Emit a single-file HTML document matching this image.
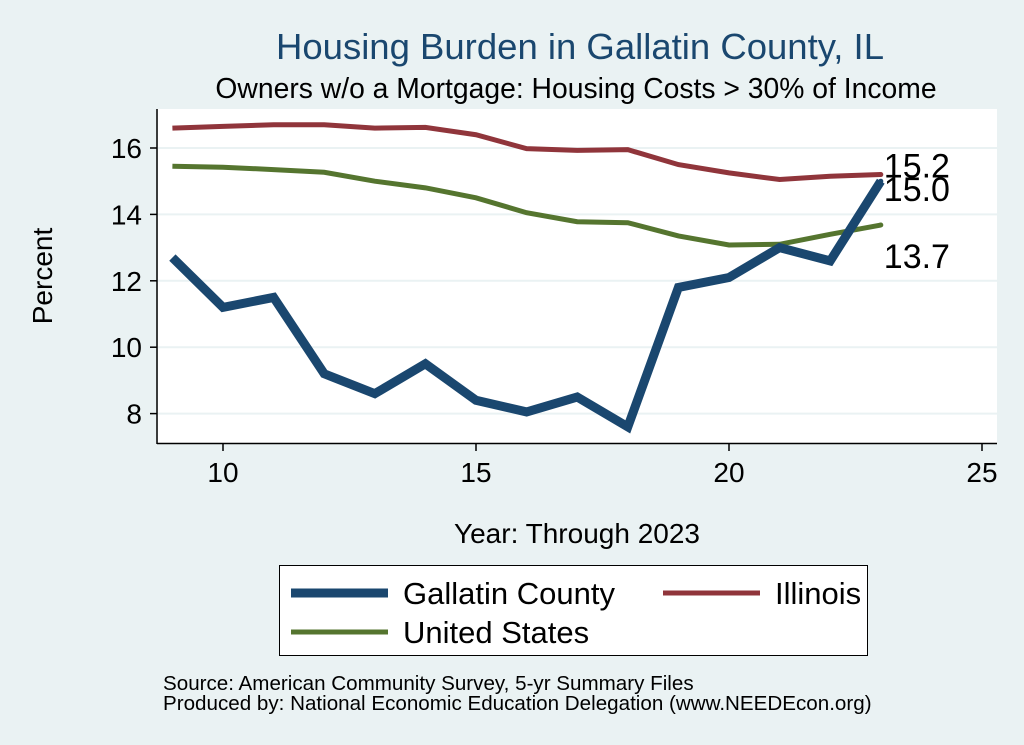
<!DOCTYPE html>
<html><head><meta charset="utf-8"><style>
body{margin:0;background:#eaf2f3;}
svg{display:block;font-family:"Liberation Sans",sans-serif;}
</style></head><body>
<svg id="chart" width="1024" height="745">
<rect width="1024" height="745" fill="#eaf2f3"/>
<text x="580" y="59" font-size="36.5" fill="#1a476f" text-anchor="middle">Housing Burden in Gallatin County, IL</text>
<text x="576" y="98" font-size="28.3" fill="#000" text-anchor="middle">Owners w/o a Mortgage: Housing Costs &gt; 30% of Income</text>
<rect x="158" y="109" width="839" height="334" fill="#fff"/>
<g id="grid"></g>
<g id="series"></g>
<line x1="157" y1="109" x2="157" y2="444" stroke="#000" stroke-width="1.5"/>
<line x1="157" y1="443.5" x2="997" y2="443.5" stroke="#000" stroke-width="1.5"/>
<g id="ticks"></g>
<text x="52" y="276" font-size="28" text-anchor="middle" transform="rotate(-90 52 276)">Percent</text>
<text x="577" y="543" font-size="28" text-anchor="middle">Year: Through 2023</text>
<g>
<rect x="279.5" y="565.5" width="588" height="90" fill="#fff" stroke="#000"/>
<line x1="291" y1="593" x2="388" y2="593" stroke="#1a476f" stroke-width="9"/>
<text x="403" y="604" font-size="31">Gallatin County</text>
<line x1="663" y1="593" x2="760" y2="593" stroke="#90353b" stroke-width="5"/>
<text x="775" y="604" font-size="31">Illinois</text>
<line x1="291" y1="632" x2="388" y2="632" stroke="#55752f" stroke-width="5"/>
<text x="403" y="643" font-size="31">United States</text>
</g>
<text x="163" y="690" font-size="20.6">Source: American Community Survey, 5-yr Summary Files</text>
<text x="163" y="710" font-size="20.6">Produced by: National Economic Education Delegation (www.NEEDEcon.org)</text>
</svg>
<script>
const years=[9,10,11,12,13,14,15,16,17,18,19,20,21,22,23];
const gallatin=[12.7,11.2,11.5,9.2,8.6,9.5,8.4,8.05,8.5,7.6,11.8,12.1,13.0,12.6,15.0];
const illinois=[16.6,16.65,16.7,16.7,16.6,16.62,16.4,15.98,15.93,15.95,15.5,15.25,15.05,15.15,15.2];
const us=[15.45,15.42,15.35,15.27,15.0,14.8,14.5,14.05,13.78,13.75,13.35,13.08,13.1,13.4,13.68];
const xTicks=[10,15,20,25];
const yTicks=[8,10,12,14,16];
const NS='http://www.w3.org/2000/svg';
function xs(v){return 223+(v-10)*50.6;}
function ys(v){return 148+(16-v)*33.2;}
function mk(tag,attrs,parent){const e=document.createElementNS(NS,tag);for(const k in attrs)e.setAttribute(k,attrs[k]);parent.appendChild(e);return e;}
const grid=document.getElementById('grid'),ticks=document.getElementById('ticks'),ser=document.getElementById('series'),svg=document.getElementById('chart');
yTicks.forEach(t=>{
 const g=mk('line',{x1:158,x2:997,y1:ys(t),y2:ys(t),stroke:'#eaf2f3','stroke-width':2},grid);
 
 
 const k=mk('line',{x1:150,x2:157,y1:ys(t),y2:ys(t),stroke:'#000','stroke-width':1.5},ticks);
 
 
 const l=mk('text',{x:142,y:ys(t)+10,'font-size':28,'text-anchor':'end'},ticks);l.textContent=t;
 
 
});
xTicks.forEach(t=>{
 const k=mk('line',{x1:xs(t),x2:xs(t),y1:443,y2:451,stroke:'#000','stroke-width':1.5},ticks);
 
 
 const l=mk('text',{x:xs(t),y:482,'font-size':28,'text-anchor':'middle'},ticks);l.textContent=t;
 
 
});
function line(vals,color,w,name){
 const p=mk('polyline',{points:vals.map((v,i)=>xs(years[i])+','+ys(v)).join(' '),fill:'none',stroke:color,'stroke-width':w,'stroke-linejoin':'miter'},ser);
 
 
}
line(illinois,'#90353b',5,'line-illinois');
line(us,'#55752f',5,'line-us');
line(gallatin,'#1a476f',9,'line-gallatin');
const n=years.length-1;
[[illinois[n],'#90353b',-7,'label-illinois-last'],[gallatin[n],'#1a476f',10,'label-gallatin-last'],[us[n],'#55752f',33,'label-us-last']].forEach(a=>{
 const d=mk('circle',{cx:xs(years[n]),cy:ys(a[0]),r:2.5,fill:a[1]},svg);
 
 
 const t=mk('text',{x:xs(years[n])+3,y:ys(a[0])+a[2]+10,'font-size':34},svg);t.textContent=a[0].toFixed(1);
 
 
});
</script>
</body></html>
